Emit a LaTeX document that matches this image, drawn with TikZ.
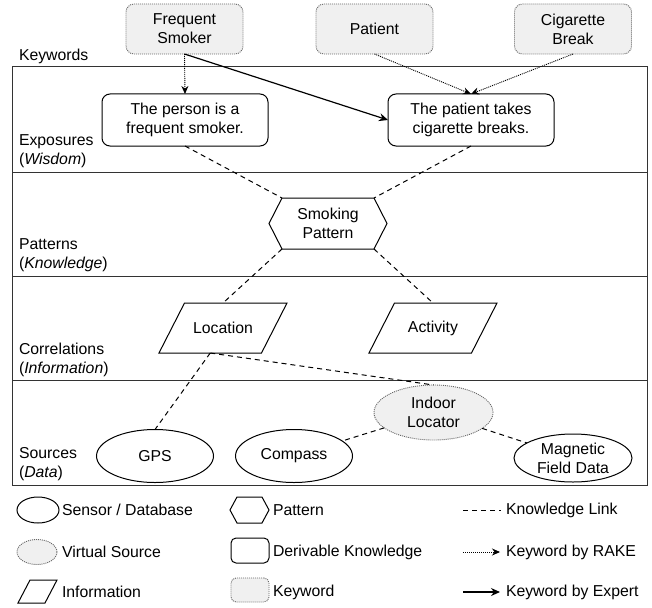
\documentclass[tikz,border=0pt]{standalone}
\usepackage{fontspec}
\setmainfont{Liberation Sans}
\usetikzlibrary{shapes.geometric,arrows.meta,calc}

\begin{document}
\begin{tikzpicture}[x=1pt,y=-1pt,
  font=\fontsize{15.8}{19}\selectfont,
  every node/.style={inner sep=0pt, outer sep=0pt},
  layerline/.style={draw=black!80, line width=1pt},
  kwbox/.style={draw=black!60, fill=black!6, dash pattern=on 1pt off 1pt,
    line width=0.9pt, rounded corners=8pt, minimum width=117pt,
    minimum height=50pt, align=center},
  derived/.style={draw, line width=1pt, rounded corners=8pt,
    minimum width=166pt, minimum height=52pt, align=center},
  infobox/.style={minimum width=128pt, minimum height=50pt},
  outline/.style={line width=1pt},
  sensor/.style={ellipse, draw, line width=1pt, minimum width=117pt,
    minimum height=53pt, align=center},
  virtual/.style={ellipse, draw=black!60, fill=black!6,
    dash pattern=on 1pt off 1pt, line width=0.9pt, align=center},
  klink/.style={dash pattern=on 5pt off 4pt, line width=1pt},
  rake/.style={-{Stealth[length=8pt,width=7pt]}, dash pattern=on 1pt off 1pt,
    line width=0.9pt},
  expert/.style={-{Stealth[length=9pt,width=8pt]}, line width=1.2pt},
  layerlabel/.style={anchor=base west, align=left},
  legtext/.style={anchor=west}
]
\useasboundingbox (0,0) rectangle (652,607);

% layer frame
\draw[layerline] (12,67) rectangle (647,485);
\draw[layerline] (12,172) -- (647,172);
\draw[layerline] (12,276) -- (647,276);
\draw[layerline] (12,380) -- (647,380);

% layer labels (anchored at the baseline of their last line)
\node[layerlabel] (lkw) at (19,61) {Keywords};
\node[layerlabel] (lexp) at (19,164.5) {Exposures\\(\textit{Wisdom})};
\node[layerlabel] (lpat) at (19,268) {Patterns\\(\textit{Knowledge})};
\node[layerlabel] (lcor) at (19,373) {Correlations\\(\textit{Information})};
\node[layerlabel] (lsrc) at (19,477.5) {Sources\\(\textit{Data})};

% keywords
\node[kwbox] (fs) at (184.5,29) {Frequent\\Smoker};
\node[kwbox] (pat) at (374.5,29) {Patient};
\node[kwbox] (cig) at (573,29) {Cigarette\\Break};

% exposures
\node[derived] (person) at (185,120) {The person is a\\frequent smoker.};
\node[derived] (breaks) at (471,120) {The patient takes\\cigarette breaks.};

% pattern (hexagon)
\node[minimum width=118pt, minimum height=51pt, align=center] (hex) at (328,223.5) {Smoking\\Pattern};
\coordinate (hex-tl) at ($(hex.north west)+(13,0)$);
\coordinate (hex-tr) at ($(hex.north east)+(-13,0)$);
\coordinate (hex-bl) at ($(hex.south west)+(13,0)$);
\coordinate (hex-br) at ($(hex.south east)+(-13,0)$);
\draw[outline] (hex.west) -- (hex-tl) -- (hex-tr) -- (hex.east) -- (hex-br) -- (hex-bl) -- cycle;

% correlations (parallelograms)
\node[infobox] (loc) at (223,328) {Location};
\draw[outline] ($(loc.north west)+(25.5,0)$) -- (loc.north east)
  -- ($(loc.south east)+(-25.5,0)$) -- (loc.south west) -- cycle;
\coordinate (loc-b) at ($(loc.south)+(-12.75,0)$);
\node[infobox] (act) at (433,328) {Activity};
\draw[outline] ($(act.north west)+(25.5,0)$) -- (act.north east)
  -- ($(act.south east)+(-25.5,0)$) -- (act.south west) -- cycle;

% sources
\node[sensor] (gps) at (155,456) {GPS};
\node[sensor] (compass) at (294,456) {Compass};
\node[sensor, minimum width=118pt, minimum height=48pt] (mag) at (573,458) {Magnetic\\Field Data};
\node[virtual, minimum width=119pt, minimum height=55pt] (indoor) at (433.5,412.5) {Indoor\\Locator};

% keyword links
\draw[rake] (fs.south) -- (person.north);
\draw[expert] (fs.south) -- (breaks.west);
\draw[rake] (pat.south) -- (breaks.north);
\draw[rake] (cig.south) -- (breaks.north);

% knowledge links
\draw[klink] (person.south) -- (hex-tl);
\draw[klink] (breaks.south) -- (hex-tr);
\draw[klink] (hex-bl) -- (loc.north);
\draw[klink] (hex-br) -- (act.north);
\draw[klink] (loc-b) -- (gps.north);
\draw[klink] (loc-b) -- (indoor.north);
\draw[klink] (indoor) -- (compass);
\draw[klink] (indoor) -- (mag);

% legend
\node[ellipse, draw, line width=1pt, minimum width=42pt, minimum height=26pt] (lg-sensor) at (38,510) {};
\node[legtext] (lt-sensor) at (62,510) {Sensor / Database};
\node[virtual, minimum width=40pt, minimum height=25pt] (lg-virtual) at (37,552) {};
\node[legtext] (lt-virtual) at (62,552) {Virtual Source};
\node[minimum width=39pt, minimum height=23pt] (lg-info) at (37.5,591.5) {};
\draw[outline] ($(lg-info.north west)+(12,0)$) -- (lg-info.north east)
  -- ($(lg-info.south east)+(-12,0)$) -- (lg-info.south west) -- cycle;
\node[legtext] (lt-info) at (62,592) {Information};

\node[minimum width=39pt, minimum height=26pt] (lg-pat) at (249.5,510) {};
\draw[outline] (lg-pat.west) -- ($(lg-pat.north west)+(7,0)$) -- ($(lg-pat.north east)+(-7,0)$)
  -- (lg-pat.east) -- ($(lg-pat.south east)+(-7,0)$) -- ($(lg-pat.south west)+(7,0)$) -- cycle;
\node[legtext] (lt-pat) at (273,510) {Pattern};
\node[derived, minimum width=38pt, minimum height=25pt, rounded corners=5pt] (lg-derived) at (250,550.5) {};
\node[legtext] (lt-derived) at (273,552) {Derivable Knowledge};
\node[kwbox, minimum width=38pt, minimum height=24pt, rounded corners=5pt] (lg-kw) at (250,590) {};
\node[legtext] (lt-kw) at (273,592) {Keyword};

\coordinate (lk-a) at (463,510);
\coordinate (lk-b) at (501,510);
\draw[klink] (lk-a) -- (lk-b);
\node[legtext] (lt-link) at (506,510) {Knowledge Link};
\coordinate (lr-a) at (463,552);
\coordinate (lr-b) at (500,552);
\draw[rake] (lr-a) -- (lr-b);
\node[legtext] (lt-rake) at (506,552) {Keyword by RAKE};
\coordinate (le-a) at (463,592);
\coordinate (le-b) at (500,592);
\draw[expert] (le-a) -- (le-b);
\node[legtext] (lt-expert) at (506,592) {Keyword by Expert};
\end{tikzpicture}
\end{document}
